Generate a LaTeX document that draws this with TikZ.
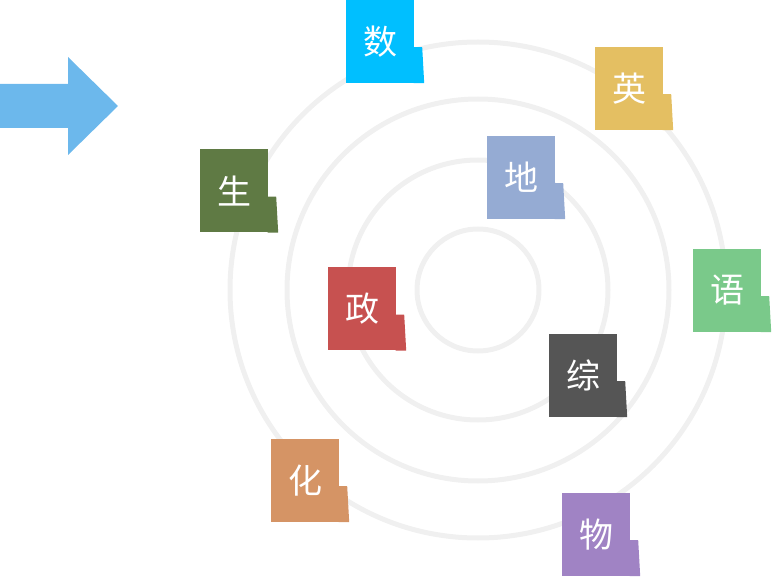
\documentclass[tikz,border=0pt]{standalone}
\usepackage{fontspec}
\newfontfamily\cjk{Noto Sans CJK SC}
\definecolor{shu}{HTML}{00BFFF}
\definecolor{ying}{HTML}{E4BF62}
\definecolor{di}{HTML}{95ABD3}
\definecolor{sheng}{HTML}{5F7A44}
\definecolor{yu}{HTML}{7AC98A}
\definecolor{zheng}{HTML}{C75150}
\definecolor{zong}{HTML}{555555}
\definecolor{hua}{HTML}{D59465}
\definecolor{wu}{HTML}{A083C4}
\definecolor{ringgray}{HTML}{F0F0F0}
\definecolor{arrowblue}{HTML}{6CB8EC}
\begin{document}
\begin{tikzpicture}[
x=1pt, y=-1pt,
font=\cjk\fontsize{34}{34}\selectfont,
ring/.style={draw=ringgray, line width=5pt},
tag/.style={fill=#1, text=white, minimum width=68pt, minimum height=83pt, inner sep=0pt,
  append after command={\pgfextra{\fill[#1] ([xshift=-0.5pt]\tikzlastnode.south east) -- ++(0,-36) -- ++(8.5,0) -- ++(2,36) -- cycle;}}}
]
\useasboundingbox (0,0) rectangle (772,580);

\coordinate (c) at (478,290);
\draw[ring] (c) circle[radius=61];
\draw[ring] (c) circle[radius=130];
\draw[ring] (c) circle[radius=191];
\draw[ring] (c) circle[radius=248];

\fill[arrowblue] (0,84) -- (68,84) -- (68,57) -- (118,106) -- (68,155) -- (68,128) -- (0,128) -- cycle;

\node[tag=shu] (shu) at (380,41.5) {数};
\node[tag=ying] (ying) at (629,88.5) {英};
\node[tag=di] (di) at (521,177.5) {地};
\node[tag=sheng] (sheng) at (234,191) {生};
\node[tag=yu] (yu) at (727,290.5) {语};
\node[tag=zheng] (zheng) at (362,309) {政};
\node[tag=zong] (zong) at (583,375.5) {综};
\node[tag=hua] (hua) at (305,480.5) {化};
\node[tag=wu] (wu) at (596,534.5) {物};
\end{tikzpicture}
\end{document}
